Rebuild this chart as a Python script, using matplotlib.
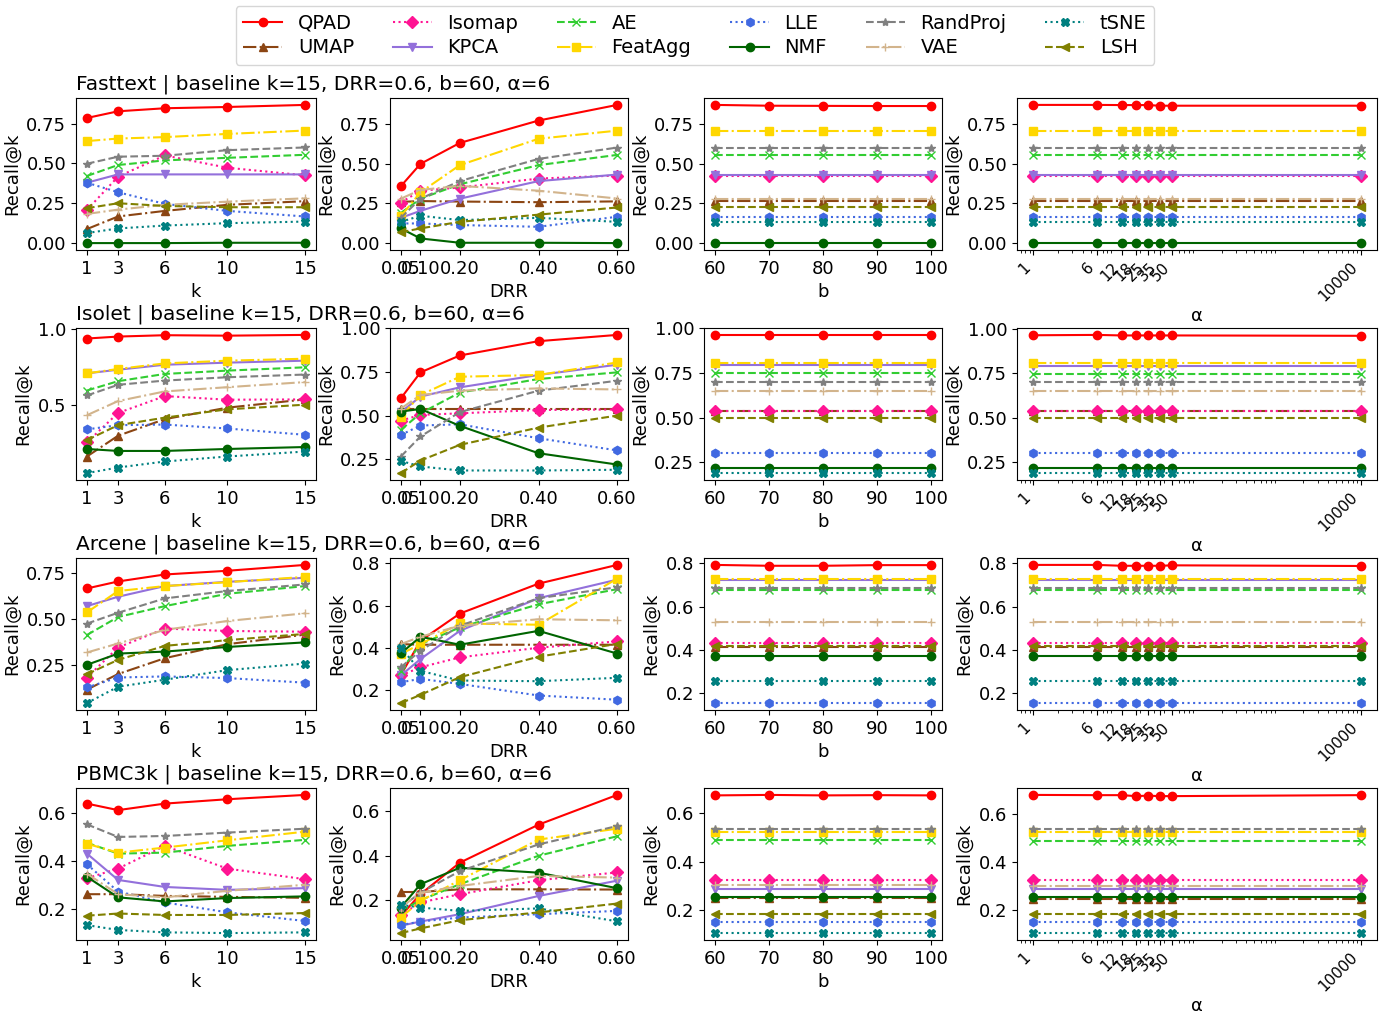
import matplotlib.pyplot as plt

W, H = 1390, 1013

METHODS = ["QPAD", "UMAP", "Isomap", "KPCA", "AE", "FeatAgg",
           "LLE", "NMF", "RandProj", "VAE", "tSNE", "LSH"]
COLORS = ["red", "saddlebrown", "deeppink", "mediumpurple", "limegreen", "gold",
          "royalblue", "darkgreen", "gray", "tan", "teal", "olive"]
LINESTYLES = ["-", "-.", ":", "-", "--", "-.", ":", "-", "--", "-.", ":", "--"]
MARKERS = ["o", "^", "D", "v", "x", "s", "h", "o", "*", "+", "X", "<"]

K_VALUES = [1, 3, 6, 10, 15]
DRR_VALUES = [0.05, 0.10, 0.20, 0.40, 0.60]
B_VALUES = [60, 70, 80, 90, 100]
ALPHA_VALUES = [1, 6, 12, 18, 25, 35, 50, 10000]

DATASETS = ["Fasttext", "Isolet", "Arcene", "PBMC3k"]

# ---- Fasttext ----
FASTTEXT_K = {
    "QPAD": [0.785, 0.827, 0.846, 0.854, 0.867],
    "UMAP": [0.088, 0.167, 0.202, 0.240, 0.263],
    "Isomap": [0.208, 0.417, 0.550, 0.473, 0.425],
    "KPCA": [0.379, 0.431, 0.431, 0.431, 0.431],
    "AE": [0.421, 0.490, 0.519, 0.535, 0.554],
    "FeatAgg": [0.640, 0.656, 0.665, 0.685, 0.706],
    "LLE": [0.379, 0.319, 0.246, 0.202, 0.167],
    "NMF": [0.000, 0.000, 0.000, 0.002, 0.002],
    "RandProj": [0.498, 0.542, 0.548, 0.583, 0.600],
    "VAE": [0.183, 0.210, 0.240, 0.260, 0.281],
    "tSNE": [0.063, 0.092, 0.110, 0.125, 0.135],
    "LSH": [0.219, 0.250, 0.233, 0.225, 0.225],
}
FASTTEXT_DRR = {
    "QPAD": [0.358, 0.498, 0.629, 0.769, 0.867],
    "UMAP": [0.260, 0.265, 0.262, 0.258, 0.263],
    "Isomap": [0.256, 0.330, 0.350, 0.406, 0.425],
    "KPCA": [0.160, 0.204, 0.280, 0.390, 0.431],
    "AE": [0.190, 0.280, 0.370, 0.490, 0.554],
    "FeatAgg": [0.170, 0.320, 0.490, 0.655, 0.706],
    "LLE": [0.125, 0.125, 0.115, 0.104, 0.167],
    "NMF": [0.094, 0.031, 0.004, 0.004, 0.002],
    "RandProj": [0.160, 0.280, 0.390, 0.529, 0.600],
    "VAE": [0.280, 0.335, 0.360, 0.330, 0.281],
    "tSNE": [0.135, 0.173, 0.146, 0.160, 0.135],
    "LSH": [0.070, 0.094, 0.135, 0.180, 0.225],
}
FASTTEXT_B = {
    "QPAD": [0.867, 0.862, 0.861, 0.860, 0.860],
    "UMAP": [0.263, 0.263, 0.263, 0.263, 0.263],
    "Isomap": [0.425, 0.425, 0.425, 0.425, 0.425],
    "KPCA": [0.431, 0.431, 0.431, 0.431, 0.431],
    "AE": [0.554, 0.554, 0.554, 0.554, 0.554],
    "FeatAgg": [0.706, 0.706, 0.706, 0.706, 0.706],
    "LLE": [0.167, 0.167, 0.167, 0.167, 0.167],
    "NMF": [0.002, 0.002, 0.002, 0.002, 0.002],
    "RandProj": [0.600, 0.600, 0.600, 0.600, 0.600],
    "VAE": [0.281, 0.281, 0.281, 0.281, 0.281],
    "tSNE": [0.135, 0.135, 0.135, 0.135, 0.135],
    "LSH": [0.225, 0.225, 0.225, 0.225, 0.225],
}
FASTTEXT_ALPHA = {
    "QPAD": [0.867, 0.867, 0.866, 0.866, 0.866, 0.862, 0.862, 0.862],
    "UMAP": [0.263, 0.263, 0.263, 0.263, 0.263, 0.263, 0.263, 0.263],
    "Isomap": [0.425, 0.425, 0.425, 0.425, 0.425, 0.425, 0.425, 0.425],
    "KPCA": [0.431, 0.431, 0.431, 0.431, 0.431, 0.431, 0.431, 0.431],
    "AE": [0.554, 0.554, 0.554, 0.554, 0.554, 0.554, 0.554, 0.554],
    "FeatAgg": [0.706, 0.706, 0.706, 0.706, 0.706, 0.706, 0.706, 0.706],
    "LLE": [0.167, 0.167, 0.167, 0.167, 0.167, 0.167, 0.167, 0.167],
    "NMF": [0.002, 0.002, 0.002, 0.002, 0.002, 0.002, 0.002, 0.002],
    "RandProj": [0.600, 0.600, 0.600, 0.600, 0.600, 0.600, 0.600, 0.600],
    "VAE": [0.281, 0.281, 0.281, 0.281, 0.281, 0.281, 0.281, 0.281],
    "tSNE": [0.135, 0.135, 0.135, 0.135, 0.135, 0.135, 0.135, 0.135],
    "LSH": [0.225, 0.225, 0.225, 0.225, 0.225, 0.225, 0.225, 0.225],
}

# ---- Isolet ----
ISOLET_K = {
    "QPAD": [0.939, 0.952, 0.961, 0.958, 0.963],
    "UMAP": [0.156, 0.294, 0.404, 0.480, 0.535],
    "Isomap": [0.250, 0.445, 0.557, 0.533, 0.535],
    "KPCA": [0.708, 0.732, 0.765, 0.779, 0.792],
    "AE": [0.594, 0.656, 0.704, 0.726, 0.748],
    "FeatAgg": [0.708, 0.737, 0.774, 0.792, 0.805],
    "LLE": [0.336, 0.364, 0.368, 0.342, 0.300],
    "NMF": [0.206, 0.193, 0.193, 0.206, 0.219],
    "RandProj": [0.561, 0.632, 0.660, 0.682, 0.700],
    "VAE": [0.430, 0.524, 0.588, 0.616, 0.650],
    "tSNE": [0.046, 0.083, 0.123, 0.156, 0.189],
    "LSH": [0.265, 0.364, 0.414, 0.469, 0.500],
}
ISOLET_DRR = {
    "QPAD": [0.599, 0.748, 0.845, 0.927, 0.963],
    "UMAP": [0.535, 0.535, 0.535, 0.535, 0.535],
    "Isomap": [0.471, 0.504, 0.513, 0.532, 0.535],
    "KPCA": [0.520, 0.609, 0.662, 0.733, 0.792],
    "AE": [0.418, 0.513, 0.632, 0.710, 0.748],
    "FeatAgg": [0.494, 0.618, 0.723, 0.733, 0.805],
    "LLE": [0.389, 0.443, 0.450, 0.370, 0.300],
    "NMF": [0.523, 0.538, 0.441, 0.284, 0.219],
    "RandProj": [0.265, 0.380, 0.520, 0.643, 0.700],
    "VAE": [0.540, 0.618, 0.643, 0.656, 0.650],
    "tSNE": [0.240, 0.208, 0.185, 0.185, 0.189],
    "LSH": [0.170, 0.242, 0.332, 0.431, 0.500],
}
ISOLET_B = {
    "QPAD": [0.963, 0.963, 0.963, 0.963, 0.963],
    "UMAP": [0.535, 0.535, 0.535, 0.535, 0.535],
    "Isomap": [0.535, 0.535, 0.535, 0.535, 0.535],
    "KPCA": [0.792, 0.792, 0.792, 0.792, 0.792],
    "AE": [0.748, 0.748, 0.748, 0.748, 0.748],
    "FeatAgg": [0.805, 0.805, 0.805, 0.805, 0.805],
    "LLE": [0.300, 0.300, 0.300, 0.300, 0.300],
    "NMF": [0.219, 0.219, 0.219, 0.219, 0.219],
    "RandProj": [0.700, 0.700, 0.700, 0.700, 0.700],
    "VAE": [0.650, 0.650, 0.650, 0.650, 0.650],
    "tSNE": [0.189, 0.189, 0.189, 0.189, 0.189],
    "LSH": [0.500, 0.500, 0.500, 0.500, 0.500],
}
ISOLET_ALPHA = {
    "QPAD": [0.963, 0.965, 0.962, 0.962, 0.962, 0.962, 0.962, 0.960],
    "UMAP": [0.535, 0.535, 0.535, 0.535, 0.535, 0.535, 0.535, 0.535],
    "Isomap": [0.535, 0.535, 0.535, 0.535, 0.535, 0.535, 0.535, 0.535],
    "KPCA": [0.792, 0.792, 0.792, 0.792, 0.792, 0.792, 0.792, 0.792],
    "AE": [0.748, 0.748, 0.748, 0.748, 0.748, 0.748, 0.748, 0.748],
    "FeatAgg": [0.805, 0.805, 0.805, 0.805, 0.805, 0.805, 0.805, 0.805],
    "LLE": [0.300, 0.300, 0.300, 0.300, 0.300, 0.300, 0.300, 0.300],
    "NMF": [0.219, 0.219, 0.219, 0.219, 0.219, 0.219, 0.219, 0.219],
    "RandProj": [0.700, 0.700, 0.700, 0.700, 0.700, 0.700, 0.700, 0.700],
    "VAE": [0.650, 0.650, 0.650, 0.650, 0.650, 0.650, 0.650, 0.650],
    "tSNE": [0.189, 0.189, 0.189, 0.189, 0.189, 0.189, 0.189, 0.189],
    "LSH": [0.500, 0.500, 0.500, 0.500, 0.500, 0.500, 0.500, 0.500],
}

# ---- Arcene ----
ARCENE_K = {
    "QPAD": [0.665, 0.703, 0.741, 0.761, 0.793],
    "UMAP": [0.115, 0.200, 0.286, 0.362, 0.414],
    "Isomap": [0.181, 0.344, 0.447, 0.434, 0.430],
    "KPCA": [0.569, 0.620, 0.678, 0.701, 0.723],
    "AE": [0.412, 0.510, 0.569, 0.636, 0.678],
    "FeatAgg": [0.535, 0.651, 0.678, 0.699, 0.728],
    "LLE": [0.127, 0.181, 0.187, 0.178, 0.153],
    "NMF": [0.250, 0.311, 0.322, 0.347, 0.372],
    "RandProj": [0.474, 0.533, 0.611, 0.651, 0.687],
    "VAE": [0.317, 0.366, 0.440, 0.488, 0.530],
    "tSNE": [0.042, 0.131, 0.169, 0.221, 0.257],
    "LSH": [0.199, 0.277, 0.353, 0.384, 0.418],
}
ARCENE_DRR = {
    "QPAD": [0.270, 0.433, 0.562, 0.704, 0.793],
    "UMAP": [0.417, 0.414, 0.414, 0.414, 0.414],
    "Isomap": [0.268, 0.307, 0.354, 0.400, 0.430],
    "KPCA": [0.268, 0.346, 0.480, 0.635, 0.723],
    "AE": [0.290, 0.417, 0.496, 0.606, 0.678],
    "FeatAgg": [0.370, 0.417, 0.515, 0.509, 0.728],
    "LLE": [0.236, 0.252, 0.228, 0.173, 0.153],
    "NMF": [0.373, 0.452, 0.414, 0.480, 0.372],
    "RandProj": [0.307, 0.386, 0.504, 0.635, 0.687],
    "VAE": [0.417, 0.452, 0.504, 0.535, 0.530],
    "tSNE": [0.400, 0.290, 0.244, 0.241, 0.257],
    "LSH": [0.137, 0.176, 0.260, 0.357, 0.418],
}
ARCENE_B = {
    "QPAD": [0.793, 0.789, 0.789, 0.792, 0.792],
    "UMAP": [0.414, 0.414, 0.414, 0.414, 0.414],
    "Isomap": [0.430, 0.430, 0.430, 0.430, 0.430],
    "KPCA": [0.723, 0.723, 0.723, 0.723, 0.723],
    "AE": [0.678, 0.678, 0.678, 0.678, 0.678],
    "FeatAgg": [0.728, 0.728, 0.728, 0.728, 0.728],
    "LLE": [0.153, 0.153, 0.153, 0.153, 0.153],
    "NMF": [0.372, 0.372, 0.372, 0.372, 0.372],
    "RandProj": [0.687, 0.687, 0.687, 0.687, 0.687],
    "VAE": [0.530, 0.530, 0.530, 0.530, 0.530],
    "tSNE": [0.257, 0.257, 0.257, 0.257, 0.257],
    "LSH": [0.418, 0.418, 0.418, 0.418, 0.418],
}
ARCENE_ALPHA = {
    "QPAD": [0.793, 0.793, 0.789, 0.789, 0.789, 0.789, 0.791, 0.788],
    "UMAP": [0.414, 0.414, 0.414, 0.414, 0.414, 0.414, 0.414, 0.414],
    "Isomap": [0.430, 0.430, 0.430, 0.430, 0.430, 0.430, 0.430, 0.430],
    "KPCA": [0.723, 0.723, 0.723, 0.723, 0.723, 0.723, 0.723, 0.723],
    "AE": [0.678, 0.678, 0.678, 0.678, 0.678, 0.678, 0.678, 0.678],
    "FeatAgg": [0.728, 0.728, 0.728, 0.728, 0.728, 0.728, 0.728, 0.728],
    "LLE": [0.153, 0.153, 0.153, 0.153, 0.153, 0.153, 0.153, 0.153],
    "NMF": [0.372, 0.372, 0.372, 0.372, 0.372, 0.372, 0.372, 0.372],
    "RandProj": [0.687, 0.687, 0.687, 0.687, 0.687, 0.687, 0.687, 0.687],
    "VAE": [0.530, 0.530, 0.530, 0.530, 0.530, 0.530, 0.530, 0.530],
    "tSNE": [0.257, 0.257, 0.257, 0.257, 0.257, 0.257, 0.257, 0.257],
    "LSH": [0.418, 0.418, 0.418, 0.418, 0.418, 0.418, 0.418, 0.418],
}

# ---- PBMC3k ----
PBMC_K = {
    "QPAD": [0.638, 0.611, 0.638, 0.656, 0.674],
    "UMAP": [0.263, 0.263, 0.256, 0.252, 0.248],
    "Isomap": [0.329, 0.369, 0.463, 0.369, 0.325],
    "KPCA": [0.431, 0.322, 0.293, 0.281, 0.288],
    "AE": [0.476, 0.431, 0.435, 0.463, 0.488],
    "FeatAgg": [0.472, 0.435, 0.456, 0.486, 0.522],
    "LLE": [0.387, 0.274, 0.229, 0.188, 0.152],
    "NMF": [0.335, 0.250, 0.233, 0.247, 0.254],
    "RandProj": [0.552, 0.500, 0.504, 0.518, 0.534],
    "VAE": [0.348, 0.263, 0.250, 0.277, 0.302],
    "tSNE": [0.135, 0.115, 0.105, 0.102, 0.105],
    "LSH": [0.174, 0.183, 0.177, 0.177, 0.185],
}
PBMC_DRR = {
    "QPAD": [0.130, 0.227, 0.369, 0.540, 0.674],
    "UMAP": [0.237, 0.237, 0.249, 0.249, 0.248],
    "Isomap": [0.134, 0.190, 0.227, 0.290, 0.325],
    "KPCA": [0.085, 0.104, 0.137, 0.219, 0.288],
    "AE": [0.152, 0.200, 0.272, 0.400, 0.488],
    "FeatAgg": [0.122, 0.197, 0.290, 0.473, 0.522],
    "LLE": [0.088, 0.104, 0.122, 0.137, 0.152],
    "NMF": [0.167, 0.272, 0.346, 0.324, 0.254],
    "RandProj": [0.167, 0.234, 0.331, 0.451, 0.534],
    "VAE": [0.167, 0.234, 0.264, 0.309, 0.302],
    "tSNE": [0.179, 0.167, 0.152, 0.163, 0.105],
    "LSH": [0.052, 0.073, 0.110, 0.145, 0.185],
}
PBMC_B = {
    "QPAD": [0.674, 0.676, 0.674, 0.675, 0.674],
    "UMAP": [0.248, 0.248, 0.248, 0.248, 0.248],
    "Isomap": [0.325, 0.325, 0.325, 0.325, 0.325],
    "KPCA": [0.288, 0.288, 0.288, 0.288, 0.288],
    "AE": [0.488, 0.488, 0.488, 0.488, 0.488],
    "FeatAgg": [0.522, 0.522, 0.522, 0.522, 0.522],
    "LLE": [0.152, 0.152, 0.152, 0.152, 0.152],
    "NMF": [0.254, 0.254, 0.254, 0.254, 0.254],
    "RandProj": [0.534, 0.534, 0.534, 0.534, 0.534],
    "VAE": [0.302, 0.302, 0.302, 0.302, 0.302],
    "tSNE": [0.105, 0.105, 0.105, 0.105, 0.105],
    "LSH": [0.185, 0.185, 0.185, 0.185, 0.185],
}
PBMC_ALPHA = {
    "QPAD": [0.677, 0.676, 0.676, 0.672, 0.674, 0.672, 0.672, 0.676],
    "UMAP": [0.248, 0.248, 0.248, 0.248, 0.248, 0.248, 0.248, 0.248],
    "Isomap": [0.325, 0.325, 0.325, 0.325, 0.325, 0.325, 0.325, 0.325],
    "KPCA": [0.288, 0.288, 0.288, 0.288, 0.288, 0.288, 0.288, 0.288],
    "AE": [0.488, 0.488, 0.488, 0.488, 0.488, 0.488, 0.488, 0.488],
    "FeatAgg": [0.522, 0.522, 0.522, 0.522, 0.522, 0.522, 0.522, 0.522],
    "LLE": [0.152, 0.152, 0.152, 0.152, 0.152, 0.152, 0.152, 0.152],
    "NMF": [0.254, 0.254, 0.254, 0.254, 0.254, 0.254, 0.254, 0.254],
    "RandProj": [0.534, 0.534, 0.534, 0.534, 0.534, 0.534, 0.534, 0.534],
    "VAE": [0.302, 0.302, 0.302, 0.302, 0.302, 0.302, 0.302, 0.302],
    "tSNE": [0.105, 0.105, 0.105, 0.105, 0.105, 0.105, 0.105, 0.105],
    "LSH": [0.185, 0.185, 0.185, 0.185, 0.185, 0.185, 0.185, 0.185],
}

ROWS = [
    (FASTTEXT_K, FASTTEXT_DRR, FASTTEXT_B, FASTTEXT_ALPHA),
    (ISOLET_K, ISOLET_DRR, ISOLET_B, ISOLET_ALPHA),
    (ARCENE_K, ARCENE_DRR, ARCENE_B, ARCENE_ALPHA),
    (PBMC_K, PBMC_DRR, PBMC_B, PBMC_ALPHA),
]

# panel geometry in pixels
COL_LEFT = [76, 390, 704, 1017]
COL_WIDTH = [240, 238, 238, 360]
ROW_TOP = [98, 328, 558, 788]
PANEL_H = 152


def draw_panel(ax, xs, data):
    for m, c, ls, mk in zip(METHODS, COLORS, LINESTYLES, MARKERS):
        ax.plot(xs, data[m], color=c, linestyle=ls, marker=mk,
                markersize=6, linewidth=1.5, label=m)


def main():
    plt.rcParams["font.size"] = 13
    fig = plt.figure(figsize=(W / 100, H / 100), dpi=100)

    sweeps = [K_VALUES, DRR_VALUES, B_VALUES, ALPHA_VALUES]
    xlabels = ["k", "DRR", "b", "α"]

    for r, (name, panels) in enumerate(zip(DATASETS, ROWS)):
        for c in range(4):
            rect = [COL_LEFT[c] / W, 1 - (ROW_TOP[r] + PANEL_H) / H,
                    COL_WIDTH[c] / W, PANEL_H / H]
            ax = fig.add_axes(rect)
            draw_panel(ax, sweeps[c], panels[c])
            ax.set_ylabel("Recall@k")
            if c == 0:
                ax.set_xticks(K_VALUES)
                ax.set_title(f"{name} | baseline k=15, DRR=0.6, b=60, α=6",
                             loc="left", fontsize=14.5)
            elif c == 1:
                ax.set_xticks(DRR_VALUES, labels=[f"{v:.2f}" for v in DRR_VALUES])
            elif c == 2:
                ax.set_xticks(B_VALUES)
            else:
                ax.set_xscale("log")
                ax.set_xticks(ALPHA_VALUES, labels=[str(a) for a in ALPHA_VALUES],
                              rotation=45, ha="right", fontsize=11)
            ax.set_xlabel(xlabels[c], labelpad=2 if c == 3 else 4)
            if r == 0 and c == 0:
                handles, labels = ax.get_legend_handles_labels()

    fig.legend(handles, labels, loc="upper center", bbox_to_anchor=(0.5, 1.0),
               borderaxespad=0.3, ncol=6, fontsize=14, labelspacing=0.3)
    fig.savefig("out.png", dpi=100)


if __name__ == "__main__":
    main()
